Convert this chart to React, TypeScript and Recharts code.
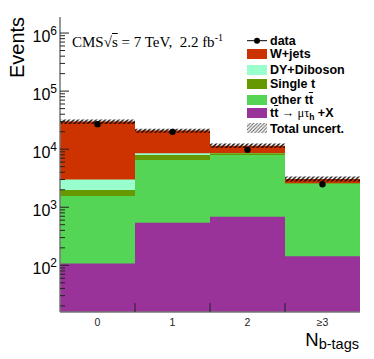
import React from 'react';
import { ComposedChart, Bar, Line, XAxis, YAxis } from 'recharts';

// ---- data ----
const bins = ['0', '1', '2', '≥3'];
const ttMuTau = [107, 543, 689, 143];
const otherTT = [1459, 5997, 7271, 2380];
const singleT = [419, 1420, 560, 60];
const dyDiboson = [1025, 560, 100, 10];
const wJets = [26890, 12380, 2880, 477];
const dataEvents = [27000, 19900, 9730, 2490];
const relUncert = [0.09, 0.08, 0.09, 0.1];
const yMajorTicks = [100, 1000, 10000, 100000, 1000000];
const yDomain = [15.7, 1.89e6];
const xBoundaryTicks = [0.5, 1.5, 2.5];

const COLORS = {
  w: '#cc3300',
  dy: '#99ffcc',
  st: '#669900',
  tt: '#55d555',
  sig: '#993399',
};

const yMinorTicks: number[] = [];
[10, 100, 1000, 10000, 100000, 1000000].forEach((d) => {
  for (let k = 1; k <= 9; k++) {
    const v = d * k;
    if (v >= yDomain[0] && v <= yDomain[1]) yMinorTicks.push(v);
  }
});

const rows = bins.map((bin, i) => {
  const c1 = ttMuTau[i];
  const c2 = c1 + otherTT[i];
  const c3 = c2 + singleT[i];
  const c4 = c3 + dyDiboson[i];
  const c5 = c4 + wJets[i];
  return {
    bin,
    idx: i,
    c1,
    c2,
    c3,
    c4,
    c5,
    unc: [c5 * (1 - relUncert[i]), c5 * (1 + relUncert[i])],
    data: dataEvents[i],
  };
});

const W = 374;
const H = 359;
const margin = { top: 17, right: 14, left: 0, bottom: 0 };
const sans = 'Liberation Sans, Arial, Helvetica, sans-serif';
const serif = 'Liberation Serif, Times New Roman, serif';

const YTickLabel = (p: any) => {
  const { x, y, payload } = p;
  const exp = Math.round(Math.log10(payload.value));
  return (
    <text x={x - 3} y={y + 9} textAnchor="end" fontFamily={sans} fontSize={16} fill="#000">
      <tspan>10</tspan>
      <tspan dy={-7} fontSize={12}>{exp}</tspan>
    </text>
  );
};

const XTickLabel = (p: any) => {
  const { x, y, payload } = p;
  return (
    <text x={x} y={y + 14} textAnchor="middle" fontFamily={sans} fontSize={10.5} fill="#222">
      {payload.value}
    </text>
  );
};

const isMajor = (v: number) => Math.abs(Math.log10(v) - Math.round(Math.log10(v))) < 1e-6;

const LeftTick = (p: any) => {
  const { x, y, payload } = p;
  const len = isMajor(payload.value) ? 9 : 5;
  return <line x1={x} x2={x + len} y1={y} y2={y} stroke="#222" strokeWidth={1} />;
};
const RightTick = (p: any) => {
  const { x, y, payload } = p;
  const len = isMajor(payload.value) ? 9 : 5;
  return <line x1={x - len} x2={x} y1={y} y2={y} stroke="#222" strokeWidth={1} />;
};
const BottomTick = (p: any) => {
  const { x, y } = p;
  return <line x1={x} x2={x} y1={y - 9} y2={y} stroke="#222" strokeWidth={1} />;
};
const TopTick = (p: any) => {
  const { x, y } = p;
  return <line x1={x} x2={x} y1={y} y2={y + 9} stroke="#222" strokeWidth={1} />;
};

const frameLine = { stroke: '#777', strokeWidth: 1.5 };

const legendItems = [
  { key: 'w', label: <span>W+jets</span>, top: 54 },
  { key: 'dy', label: <span>DY+Diboson</span>, top: 70 },
  { key: 'st', label: <span>Single t</span>, top: 83.5 },
  {
    key: 'tt',
    label: (
      <span>
        other t<span style={{ textDecoration: 'overline' }}>t</span>
      </span>
    ),
    top: 99.5,
  },
  {
    key: 'sig',
    label: (
      <span>
        t<span style={{ textDecoration: 'overline' }}>t</span>{' '}
        <span style={{ fontFamily: serif, fontWeight: 'normal' }}>→ μτ</span>
        <span style={{ fontSize: 8.5, lineHeight: '8px', position: 'relative', top: 3 }}>h</span>
        <span> +X</span>
      </span>
    ),
    top: 112.5,
  },
];

export default function App() {
  return (
    <div style={{ position: 'absolute', left: 0, top: 0, width: W, height: H, background: '#fff' }}>
      <svg width={0} height={0} style={{ position: 'absolute' }}>
        <defs>
          <pattern id="hatch" patternUnits="userSpaceOnUse" width={4.5} height={4.5}>
            <path d="M-1,1 l2,-2 M0,4.5 l4.5,-4.5 M3.5,5.5 l2,-2" stroke="#000" strokeWidth={1.4} />
          </pattern>
          <pattern id="hatchLegend" patternUnits="userSpaceOnUse" width={3.5} height={3.5}>
            <path d="M-1,1 l2,-2 M0,3.5 l3.5,-3.5 M2.5,4.5 l2,-2" stroke="#555" strokeWidth={0.9} />
          </pattern>
        </defs>
      </svg>

      {/* main chart: stacked histogram drawn as overlapping cumulative bars */}
      <div style={{ position: 'absolute', left: 0, top: 0 }}>
        <ComposedChart width={W} height={H} data={rows} margin={margin} barCategoryGap={0} barGap="-100%">
          <XAxis
            dataKey="bin"
            height={47}
            axisLine={false}
            tickLine={false}
            tickSize={0}
            tickMargin={0}
            interval={0}
            tick={(p: any) => <XTickLabel {...p} />}
          />
          <YAxis
            type="number"
            scale="log"
            domain={yDomain}
            allowDataOverflow
            ticks={yMajorTicks}
            width={60}
            axisLine={false}
            tickLine={false}
            tickSize={0}
            tickMargin={0}
            interval={0}
            tick={(p: any) => <YTickLabel {...p} />}
          />
          <Bar dataKey="c5" fill={COLORS.w} isAnimationActive={false} />
          <Bar dataKey="c4" fill={COLORS.dy} isAnimationActive={false} />
          <Bar dataKey="c3" fill={COLORS.st} isAnimationActive={false} />
          <Bar dataKey="c2" fill={COLORS.tt} isAnimationActive={false} />
          <Bar dataKey="c1" fill={COLORS.sig} isAnimationActive={false} />
          <Bar dataKey="unc" fill="url(#hatch)" isAnimationActive={false} />
          <Line
            dataKey="data"
            stroke="none"
            dot={{ r: 3.2, fill: '#000', stroke: 'none' }}
            activeDot={false}
            isAnimationActive={false}
          />
        </ComposedChart>
      </div>

      {/* overlay: frame and tick marks drawn on top of the bars */}
      <div style={{ position: 'absolute', left: 0, top: 0 }}>
        <ComposedChart width={W} height={H} data={rows} margin={margin}>
          <XAxis
            xAxisId="b"
            dataKey="idx"
            type="number"
            domain={[-0.5, 3.5]}
            allowDataOverflow
            ticks={xBoundaryTicks}
            height={47}
            axisLine={frameLine}
            tickLine={false}
            tickSize={0}
            tickMargin={0}
            interval={0}
            tick={(p: any) => <BottomTick {...p} />}
          />
          <XAxis
            xAxisId="t"
            orientation="top"
            dataKey="idx"
            type="number"
            domain={[-0.5, 3.5]}
            allowDataOverflow
            ticks={xBoundaryTicks}
            height={0}
            axisLine={frameLine}
            tickLine={false}
            tickSize={0}
            tickMargin={0}
            interval={0}
            tick={(p: any) => <TopTick {...p} />}
          />
          <YAxis
            yAxisId="l"
            type="number"
            scale="log"
            domain={yDomain}
            allowDataOverflow
            ticks={yMinorTicks}
            width={60}
            axisLine={frameLine}
            tickLine={false}
            tickSize={0}
            tickMargin={0}
            interval={0}
            tick={(p: any) => <LeftTick {...p} />}
          />
          <YAxis
            yAxisId="r"
            orientation="right"
            type="number"
            scale="log"
            domain={yDomain}
            allowDataOverflow
            ticks={yMinorTicks}
            width={0}
            axisLine={frameLine}
            tickLine={false}
            tickSize={0}
            tickMargin={0}
            interval={0}
            tick={(p: any) => <RightTick {...p} />}
          />
          <Line xAxisId="b" yAxisId="l" dataKey="data" stroke="none" dot={false} activeDot={false} isAnimationActive={false} />
        </ComposedChart>
      </div>

      {/* axis titles */}
      <svg width={W} height={H} style={{ position: 'absolute', left: 0, top: 0, pointerEvents: 'none' }}>
        <text x={23.5} y={47.5} transform="rotate(-90 23.5 47.5)" textAnchor="middle" fontFamily={sans} fontSize={20} fill="#000">
          Events
        </text>
        <text x={359} y={346} textAnchor="end" fontFamily={sans} fontSize={18.5} fill="#000">
          N<tspan fontSize={14.5} dy={3}>b-tags</tspan>
        </text>
      </svg>

      {/* CMS label */}
      <div
        style={{
          position: 'absolute',
          left: 72,
          top: 33,
          fontFamily: serif,
          fontSize: 15,
          lineHeight: '18px',
          whiteSpace: 'nowrap',
          color: '#000',
        }}
      >
        CMS√<span style={{ textDecoration: 'overline' }}>s</span> = 7 TeV,&nbsp;&nbsp;2.2 fb
        <span style={{ fontSize: 10, position: 'relative', top: -6 }}>-1</span>
      </div>

      {/* legend */}
      <div style={{ position: 'absolute', left: 0, top: 0, fontFamily: sans, fontWeight: 'bold', fontSize: 12.5, color: '#000' }}>
        <svg width={22} height={10} style={{ position: 'absolute', left: 246, top: 36 }}>
          <line x1={1} x2={21} y1={4.7} y2={4.7} stroke="#000" strokeWidth={1} />
          <circle cx={11} cy={4.7} r={3} fill="#000" />
        </svg>
        <div style={{ position: 'absolute', left: 270, top: 33.7, lineHeight: '14px', whiteSpace: 'nowrap' }}>data</div>
        {legendItems.map((it) => (
          <React.Fragment key={it.key}>
            <div
              style={{
                position: 'absolute',
                left: 247,
                top: it.top - 5,
                width: 20,
                height: 10,
                background: (COLORS as any)[it.key],
              }}
            />
            <div style={{ position: 'absolute', left: 270, top: it.top - 7, lineHeight: '14px', whiteSpace: 'nowrap' }}>
              {it.label}
            </div>
          </React.Fragment>
        ))}
        <svg width={20} height={10} style={{ position: 'absolute', left: 247, top: 123 }}>
          <rect x={0} y={0} width={20} height={10} fill="url(#hatchLegend)" />
        </svg>
        <div style={{ position: 'absolute', left: 270, top: 122, lineHeight: '14px', whiteSpace: 'nowrap' }}>Total uncert.</div>
      </div>
    </div>
  );
}
